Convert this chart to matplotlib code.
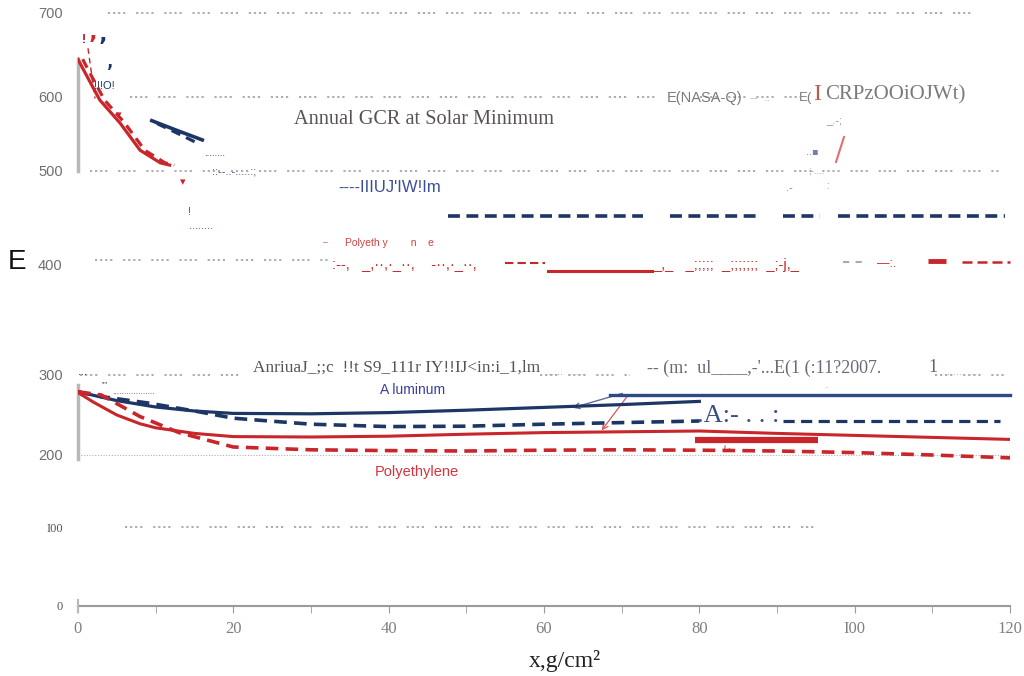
import numpy as np
import matplotlib
matplotlib.use("Agg")
import matplotlib.pyplot as plt

# ---------------- data ----------------
# lower panel: dose vs. shield depth
al_x = [0, 5, 10, 15, 20, 30, 40, 50, 60, 70, 80]
al_solid = [279, 268, 260, 255, 252, 251.5, 253, 256, 259.5, 263, 267]
al_dash_x = [0, 3, 6, 9, 12, 15, 20, 30, 40, 50, 60, 70, 80]
al_dash = [279, 273, 269, 265, 260, 255, 246, 238.5, 235.5, 236, 238.5, 240.5, 242.5]
pe_x = [0, 2, 5, 8, 10, 15, 20, 30, 40, 50, 60, 70, 80, 90, 100, 110, 120]
pe_solid = [278, 266, 250, 239, 234, 227, 223, 222.5, 223.5, 226, 228, 229, 230, 227, 224.5, 222, 219.5]
pe_dash_x = [0, 3, 8, 13, 20, 30, 40, 50, 60, 70, 80, 90, 100, 110, 120]
pe_dash = [279, 275, 248, 228, 210, 206.5, 205.5, 205, 206, 206.5, 206, 205, 203, 200, 196]
al_dash_tail_x = [90.8, 118.7]
al_dash_tail = [242.5, 242.5]
al_ref_x = [68.5, 120]
al_ref = [275, 275]
pe_bar_x = [79.5, 95.3]
pe_bar = [219, 219]

# upper panel: solar minimum curves
up_pe_x = [0, 0.5, 2.8, 5.4, 8.0, 10.6, 11.8]
up_pe = [645, 636, 596, 565, 528, 511, 508]
up_pe_dash_x = [0.6, 1.1, 3.4, 6.0, 8.6, 11.2, 12.4]
up_al_x = [9.5, 12.7, 16]
up_al = [568, 555, 542]
up_al_dash_x = [10.2, 13.0, 15.7]
up_al_dash = [564, 550, 536]
up_al_ref_segments = [(47.7, 72.7), (76.2, 87.8), (90.8, 95.5), (97.8, 119.4)]
up_al_ref = 451.6

y_ticks = [0, 100, 200, 300, 400, 500, 600, 700]
y_labels = ["0", "I00", "200", "300", "400", "500", "600", "700"]
x_ticks = [0, 20, 40, 60, 80, 100, 120]
x_labels = ["0", "20", "40", "60", "80", "I00", "120"]

# ---------------- y scale (piecewise linear) ----------------
knot_v = np.array([0, 100, 200, 300, 400, 500, 600, 700], float)
knot_p = np.array([0, 79, 151, 231, 342, 435, 509, 593], float)


def fwd(v):
    v = np.asarray(v, float)
    out = np.interp(v, knot_v, knot_p)
    out = np.where(v < 0, v * 0.79, out)
    out = np.where(v > 700, 593 + (v - 700) * 0.84, out)
    return out


def inv(p):
    p = np.asarray(p, float)
    out = np.interp(p, knot_p, knot_v)
    out = np.where(p < 0, p / 0.79, out)
    out = np.where(p > 593, 700 + (p - 593) / 0.84, out)
    return out


W, H = 1024, 676
fig = plt.figure(figsize=(W / 100, H / 100), dpi=100)
ax = fig.add_axes([78 / W, 70 / H, 932 / W, 593 / H])
ax.set_yscale("function", functions=(fwd, inv))
ax.set_xlim(0, 120)
ax.set_ylim(0, 700)

for s in ["top", "right", "left"]:
    ax.spines[s].set_visible(False)
ax.spines["bottom"].set_color("#9a9a9a")
ax.spines["bottom"].set_linewidth(1.5)

ax.set_xticks(x_ticks)
ax.set_xticklabels(x_labels, family="Liberation Serif", fontsize=12, color="#808080")
ax.set_xticks(np.arange(10, 120, 20), minor=True)
ax.tick_params(axis="x", which="both", direction="out", length=5, color="#9a9a9a", pad=6)
ax.set_yticks(y_ticks)
ax.set_yticklabels(y_labels, family="Liberation Sans", fontsize=10.5, color="#6f6f6f")
ax.tick_params(axis="y", length=0, pad=11)
for lab in ax.get_yticklabels():
    if lab.get_text() in ("I00", "0"):
        lab.set_family("Liberation Serif")
        lab.set_fontsize(9)
        lab.set_color("#555555")

NAVY = "#1d3666"
RED = "#c8262a"
GRAY = "#a5a5a5"


def xd(px):
    return (px - 78) / 932 * 120


# dotted guide rows
cluster = (0, (1.2, 1.6, 1.2, 1.6, 1.2, 1.6, 1.2, 6))
rows = [(700, 108, 975), (600, 130, 655), (600, 700, 800), (500, 90, 1000),
        (404, 95, 330), (300, 80, 240), (300, 540, 630), (300, 935, 1005),
        (100, 125, 815)]
for val, a, b in rows:
    ax.plot([xd(a), xd(b)], [val, val], color=GRAY, lw=1.3, ls=cluster,
            clip_on=False, zorder=1)
ax.plot([0, 120], [200, 200], color="#b0b0b0", lw=0.8, ls=(0, (1, 1.5)), zorder=1)

# lower panel curves
ax.plot(al_x, al_solid, color=NAVY, lw=2.3, zorder=4)
ax.plot(al_dash_x, al_dash, color=NAVY, lw=2.6, ls=(0, (3.5, 2)), zorder=4)
ax.plot(pe_x, pe_solid, color=RED, lw=2.2, zorder=4)
ax.plot(pe_dash_x, pe_dash, color=RED, lw=2.6, ls=(0, (3.5, 2)), zorder=4)
ax.plot(al_dash_tail_x, al_dash_tail, color=NAVY, lw=2.3, ls=(0, (3.5, 2)), zorder=4)
ax.plot(al_ref_x, al_ref, color="#2d4a86", lw=2.4, zorder=4, clip_on=False)
ax.plot(pe_bar_x, pe_bar, color=RED, lw=4.5, solid_capstyle="butt", zorder=5)

# upper panel curves
ax.plot(up_pe_x, up_pe, color=RED, lw=2.3, zorder=4)
ax.plot(up_pe_dash_x, up_pe, color=RED, lw=2.3, ls=(0, (3, 2)), zorder=4)
ax.plot(up_al_x, up_al, color=NAVY, lw=2.6, zorder=4)
ax.plot(up_al_dash_x, up_al_dash, color=NAVY, lw=2.3, ls=(0, (3, 2)), zorder=4)
for a, b in up_al_ref_segments:
    ax.plot([a, b], [up_al_ref, up_al_ref], color=NAVY, lw=2.6,
            ls=(0, (3.3, 1.8)), zorder=4)

# inset frame edges
ax.plot([0, 0], [500, 645], color="#b8b8b8", lw=2.5, clip_on=False, zorder=3)
ax.plot([0, 0], [195, 287], color="#b8b8b8", lw=2.5, clip_on=False, zorder=3)
ax.plot([0, 0], [-8, 8], color="#b8b8b8", lw=1.5, clip_on=False, zorder=3)
ax.plot([xd(88), xd(95)], [658, 598], color=RED, lw=1.0, ls=(0, (4, 3)), zorder=3)

# red garbled row near 400
ax.plot([xd(505), xd(545)], [401, 401], color=RED, lw=1.5, ls=(0, (4, 2)), zorder=3)
ax.plot([xd(548), xd(652)], [394, 394], color=RED, lw=2.2, zorder=3)
ax.plot([xd(928), xd(946)], [403, 403], color=RED, lw=3.5, solid_capstyle="butt", zorder=3)
ax.plot([xd(962), xd(1010)], [402, 402], color=RED, lw=1.8, ls=(0, (4, 2)), zorder=3,
        clip_on=False)
ax.plot([xd(843), xd(862)], [402, 402], color="#aaaaaa", lw=1.5, ls=(0, (3, 3)), zorder=3)

# arrows in lower panel
ax.annotate("", xy=(xd(570), 258), xytext=(xd(625), 278),
            arrowprops=dict(arrowstyle="->", color="#5f6f90", lw=1.0))
ax.annotate("", xy=(xd(600), 228), xytext=(xd(630), 278),
            arrowprops=dict(arrowstyle="->", color="#d85555", lw=0.9))
ax.annotate("", xy=(xd(722), 200), xytext=(xd(727), 209),
            arrowprops=dict(arrowstyle="->", color="#d85555", lw=0.8))


def T(x, y, s, **kw):
    kw.setdefault("va", "center")
    kw.setdefault("ha", "left")
    fig.text(x / W, 1 - y / H, s, **kw)


SER = "Liberation Serif"
SAN = "Liberation Sans"

T(294, 120, "Annual GCR at Solar Minimum", family=SER, fontsize=14.6, color="#5a5252")
T(667, 98, "E(NASA-Q)", family=SAN, fontsize=10.5, color="#7a7a7a")
T(750, 98, "--  ..", family=SAN, fontsize=8, color="#aaaaaa")
T(799, 98, "E(", family=SAN, fontsize=9.5, color="#7a7a7a")
T(813, 95, "I", family=SER, fontsize=17, color="#b06050")
T(825, 95, "CRPzOOiOJWt)", family=SER, fontsize=15, color="#7a7a7a")
T(338, 187, "----IIIUJ'IW!Im", family=SAN, fontsize=12, color="#3a4f9a")
T(323, 243, "--", family=SAN, fontsize=6.5, color="#d04040")
T(345, 243, "Polyeth y        n    e", family=SAN, fontsize=7.5, color="#d04040",
  stretch="condensed")
T(8, 262, "E", family=SAN, fontsize=20, color="#111111")
T(332, 264, ":--,   _,··,·_··,    -··,·_··,", family=SAN, fontsize=10.5, color=RED)
T(653, 265, "_,_   _;;;;;  _;;;;;;;  _;-j,_", family=SAN, fontsize=10.5, color=RED)
T(877, 264, "—:.", family=SAN, fontsize=9, color=RED)
T(253, 368, "AnriuaJ_;;c  !!t S9_111r IY!!IJ<in:i_1,lm", family=SER, fontsize=12.4,
  color="#5a5252")
T(545, 372, "......  . ...", family=SAN, fontsize=8, color="#aaaaaa")
T(647, 368, "-- (m:  ul____,-'...E(1 (:11?2007.", family=SER, fontsize=13,
  color="#6a6a7a")
T(928, 368, "1", family=SER, fontsize=13, color="#6a5a8a")
T(947, 372, "......  ..", family=SAN, fontsize=8, color="#aaaaaa")
T(380, 390, "A luminum", family=SAN, fontsize=10, color="#3a3f9a")
T(375, 472, "Polyethylene", family=SAN, fontsize=10.5, color="#d6343c")
T(697, 416, ".A:- . . :", family=SER, fontsize=19, color="#3a4f8a")
T(565, 661, "x,g/cm²", family=SER, fontsize=17, color="#222222", ha="center")

# stray glyphs near the upper panel
T(82, 40, "!", family=SAN, fontsize=9, color="#a01818", fontweight="bold")
T(89, 45, "’", family="DejaVu Sans", fontsize=16, color=RED, fontweight="bold")
T(99, 47, "’", family="DejaVu Sans", fontsize=16, color=NAVY, fontweight="bold")
T(107, 72, "’", family="DejaVu Sans", fontsize=12, color=NAVY, fontweight="bold")
T(94, 86, "!!!O!", family=SAN, fontsize=8, color=NAVY)
T(116, 115, "▾", family="DejaVu Sans", fontsize=8, color=RED)
T(180, 182, "▾", family="DejaVu Sans", fontsize=8, color=RED)
T(188, 212, "!", family=SAN, fontsize=8, color=RED)
T(189, 226, "........", family=SAN, fontsize=8, color=RED)
T(204, 153, "........", family=SAN, fontsize=7, color=NAVY)
T(212, 171, "::--..-.....:;", family=SAN, fontsize=8, color="#3a4f8a")
T(78, 372, "...", family=SAN, fontsize=8, color=NAVY)
T(101, 385, "''''", family=SAN, fontsize=6, color=NAVY)
T(112, 393, "..................", family=SAN, fontsize=6, color="#3a4f9a")
T(826, 120, "_.-;", family=SAN, fontsize=8, color="#8090b0")
T(806, 152, "..▪", family="DejaVu Sans", fontsize=7, color="#7080a8")
T(786, 188, ".-", family=SAN, fontsize=8, color="#7080a8")
T(826, 186, ":", family=SAN, fontsize=7, color="#e07070")
T(808, 170, ";-....", family=SAN, fontsize=7, color="#9aa0b8")
T(825, 388, "·", family=SAN, fontsize=8, color="#e07070")
fig.lines.append(plt.Line2D([836 / W, 844 / W], [1 - 162 / H, 1 - 137 / H],
                            color="#e07070", lw=1.5, transform=fig.transFigure))

fig.savefig("out.png", dpi=100)
